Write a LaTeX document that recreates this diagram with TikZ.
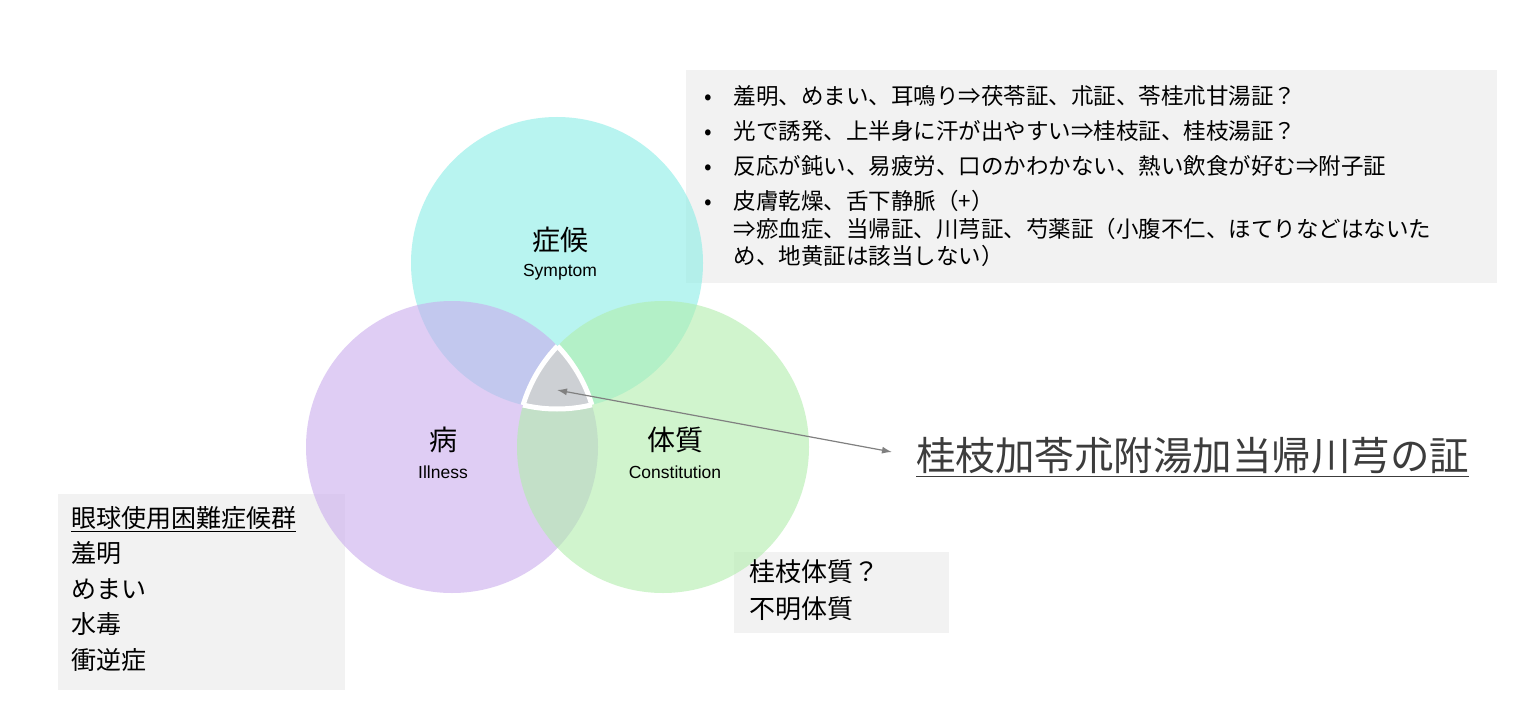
\documentclass[tikz,border=0pt]{standalone}
\usepackage{fontspec}
\setmainfont{Noto Sans CJK JP}
\newfontfamily\lat{Liberation Sans}
\usetikzlibrary{arrows.meta}
\definecolor{cS}{RGB}{137,237,230}
\definecolor{cI}{RGB}{202,172,238}
\definecolor{cC}{RGB}{177,238,172}
\definecolor{boxg}{RGB}{242,242,242}
\definecolor{trig}{RGB}{205,208,212}
\tikzset{lab/.style={align=center,inner sep=0pt}}
\begin{document}
\begin{tikzpicture}[x=1pt,y=-1pt]
\useasboundingbox (0,0) rectangle (1529,722);
\fill[white] (0,0) rectangle (1529,722);
\def\r{146}
\coordinate (S) at (557,263);
\coordinate (I) at (452,447);
\coordinate (C) at (663,447);
\fill[boxg] (686,70) rectangle (1497,283);
\fill[boxg] (58,494) rectangle (345,690);
\fill[boxg] (734,552) rectangle (949,633);
\fill[cS,opacity=0.6] (S) circle (\r);
\fill[cI,opacity=0.6] (I) circle (\r);
\fill[cC,opacity=0.6] (C) circle (\r);
\begin{scope}
\clip (S) circle (\r); \clip (I) circle (\r);
\fill[trig] (C) circle (\r);
\draw[white,line width=5] (C) circle (\r);
\end{scope}
\begin{scope}
\clip (S) circle (\r); \clip (C) circle (\r);
\draw[white,line width=5] (I) circle (\r);
\end{scope}
\begin{scope}
\clip (I) circle (\r); \clip (C) circle (\r);
\draw[white,line width=5] (S) circle (\r);
\end{scope}
\node[lab,font=\fontsize{28}{32}\selectfont] (ts) at (560,240) {症候};
\node[lab,font=\lat\fontsize{17.5}{20}\selectfont] at (560,272) {Symptom};
\node[lab,font=\fontsize{28}{32}\selectfont] (ti) at (443,440) {病};
\node[lab,font=\lat\fontsize{17.5}{20}\selectfont] at (443,472) {Illness};
\node[lab,font=\fontsize{28}{32}\selectfont] (tc) at (675,440) {体質};
\node[lab,font=\lat\fontsize{17.5}{20}\selectfont] at (675,472) {Constitution};
\node[anchor=west,inner sep=0pt,font=\fontsize{39.5}{44}\selectfont] (res) at (916,457) {\color[RGB]{60,60,60}\underline{桂枝加苓朮附湯加当帰川芎の証}};
\coordinate (tri) at (557,390);
\draw[{Latex[length=10,width=7]}-{Latex[length=10,width=7]},gray,line width=1.2] (tri) -- (892,452);
\node[anchor=north west,inner sep=0pt,font=\fontsize{22.5}{27}\selectfont] (sym) at (704,85) {%
\begin{tabular}{@{}l@{\hspace{22pt}}l@{}}
•&羞明、めまい、耳鳴り⇒茯苓証、朮証、苓桂朮甘湯証？\\[8pt]
•&光で誘発、上半身に汗が出やすい⇒桂枝証、桂枝湯証？\\[8pt]
•&反応が鈍い、易疲労、口のかわかない、熱い飲食が好む⇒附子証\\[8pt]
•&皮膚乾燥、舌下静脈（+）\\
&⇒瘀血症、当帰証、川芎証、芍薬証（小腹不仁、ほてりなどはないた\\
&め、地黄証は該当しない）
\end{tabular}};
\node[anchor=north west,inner sep=0pt,align=left,font=\fontsize{25}{35.5}\selectfont] (ill) at (71,506) {\underline{眼球使用困難症候群}\\羞明\\めまい\\水毒\\衝逆症};
\node[anchor=north west,inner sep=0pt,align=left,font=\fontsize{26}{37}\selectfont] (con) at (749,559) {桂枝体質？\\不明体質};
\end{tikzpicture}
\end{document}
